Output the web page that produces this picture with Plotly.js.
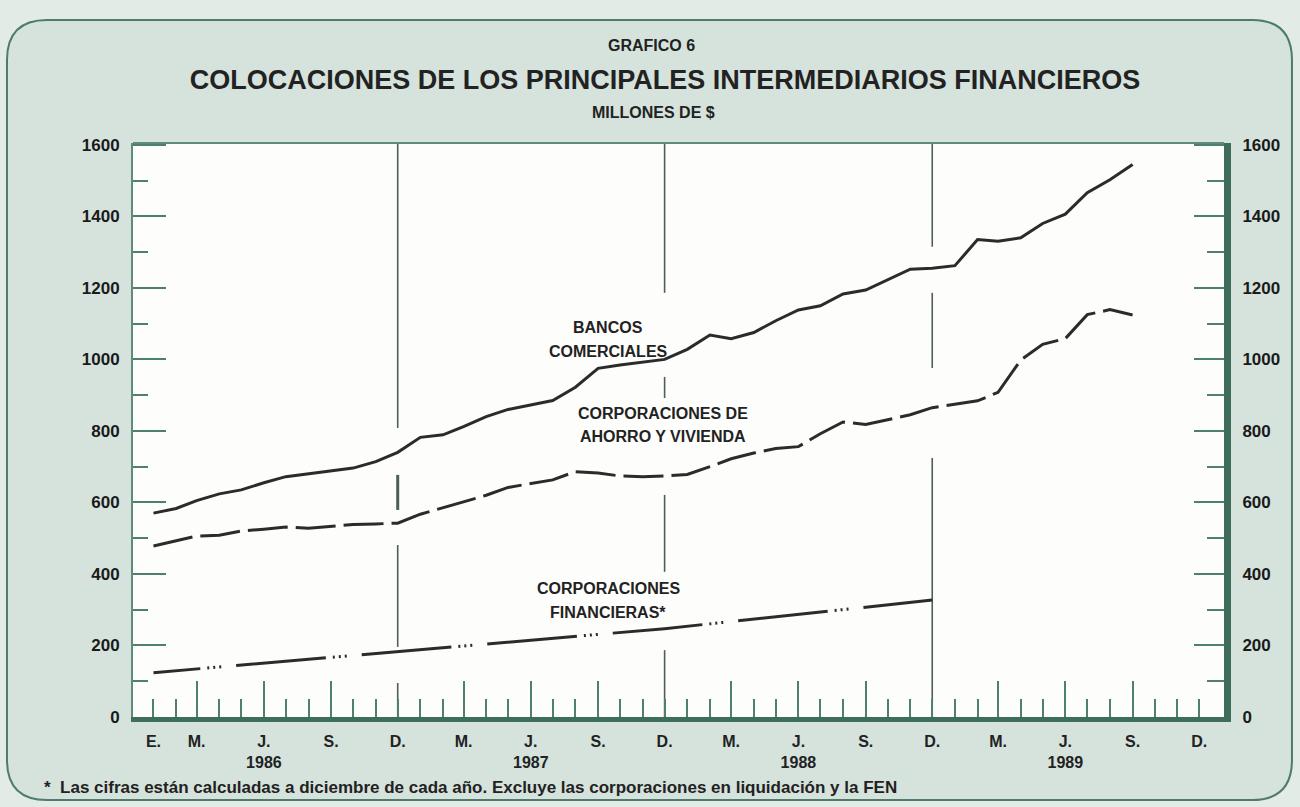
<!DOCTYPE html>
<html>
<head>
<meta charset="utf-8">
<script src="https://cdn.plot.ly/plotly-3.0.1.min.js"></script>
<style>html,body{margin:0;padding:0;background:#e3ebe6;}#chart{width:1300px;height:807px;}</style>
</head>
<body>
<div id="chart"></div>
<script>
// ---- Data (millones de $), monthly from Jan 1986 ----
const bancosComerciales = [
  570, 583, 605, 624, 635, 655, 672, 680, 688, 696, 714, 740,
  782, 789, 812, 840, 860, 872, 885, 922, 975, 984, 992, 1000,
  1028, 1068, 1058, 1075, 1108, 1138, 1150, 1183, 1194, 1222, 1252, 1255,
  1262, 1335, 1330, 1340, 1380, 1406, 1466, 1502, 1545
];
const ahorroVivienda = [
  478, 492, 506, 508, 520, 525, 531, 528, 533, 538, 540, 542,
  567, 585, 601, 620, 642, 653, 663, 686, 682, 674, 672, 674,
  678, 700, 722, 738, 751, 756, 792, 825, 818, 831, 845, 865,
  874, 884, 908, 998, 1042, 1058, 1125, 1139, 1124
];
const financierasFechas = ['1986-01-01', '1986-12-01', '1987-12-01', '1988-12-01'];
const financieras = [124, 183, 247, 327];

const etiquetasMes = ['E.','M.','J.<br>1986','S.','D.','M.','J.<br>1987','S.','D.','M.','J.<br>1988','S.','D.','M.','J.<br>1989','S.','D.'];
const etiquetasMesFechas = ['1986-01-01','1986-03-01','1986-06-01','1986-09-01','1986-12-01',
  '1987-03-01','1987-06-01','1987-09-01','1987-12-01',
  '1988-03-01','1988-06-01','1988-09-01','1988-12-01',
  '1989-03-01','1989-06-01','1989-09-01','1989-12-01'];

// month axis positions (Jan 1986 .. Dec 1989)
function mes(i) {
  const y = 1986 + Math.floor(i / 12);
  const m = (i % 12) + 1;
  return y + '-' + (m < 10 ? '0' + m : m) + '-01';
}
const meses = [];
for (let i = 0; i < 48; i++) meses.push(mes(i));
const trimestres = meses.filter((d, i) => [2, 5, 8].includes(i % 12));

const xRange = ['1985-12-04', '1990-01-04'];
const yRange = [0, 1605];
const axisCol = '#4f7f6d';
const lineCol = '#2b2b2b';
const FONT = 'Liberation Sans, Arial, sans-serif';

const traces = [
  { x: meses.slice(0, bancosComerciales.length), y: bancosComerciales, mode: 'lines', xaxis: 'x', yaxis: 'y',
    line: { color: lineCol, width: 3 }, hoverinfo: 'skip' },
  { x: meses.slice(0, ahorroVivienda.length), y: ahorroVivienda, mode: 'lines', xaxis: 'x2', yaxis: 'y',
    line: { color: lineCol, width: 3, dash: '40px,8px' }, hoverinfo: 'skip' },
  { x: financierasFechas, y: financieras, mode: 'lines', xaxis: 'x3', yaxis: 'y2',
    line: { color: lineCol, width: 3,
      dash: '47px,7px,2px,4px,2px,4px,2px,15px' + ',90px,7px,2px,4px,2px,4px,2px,15px'.repeat(8) },
    hoverinfo: 'skip' }
];

// frame (rounded) in paper coordinates
const L = -0.1155, R = 1.0623, T = 1.2143, B = -0.1446, rx = 0.0367, ry = 0.0697;
const framePath = `M ${L+rx},${T} L ${R-rx},${T} Q ${R},${T} ${R},${T-ry} L ${R},${B+ry} Q ${R},${B} ${R-rx},${B} ` +
  `L ${L+rx},${B} Q ${L},${B} ${L},${B+ry} L ${L},${T-ry} Q ${L},${T} ${L+rx},${T} Z`;

const shapes = [
  { type: 'path', xref: 'paper', yref: 'paper', path: framePath, fillcolor: '#d5e3dc',
    line: { color: '#4e7b6b', width: 2 }, layer: 'below' },
  { type: 'rect', xref: 'paper', yref: 'paper', x0: 0, x1: 1, y0: 0, y1: 1, fillcolor: '#fdfdfc',
    line: { width: 0 }, layer: 'below' },
  { type: 'line', xref: 'paper', yref: 'paper', x0: 0, x1: 1, y0: 1, y1: 1,
    line: { color: '#5f8b7b', width: 2 } }
];
// December separators (with gaps as in the print)
const sep = [
  ['1986-12-01', [[808, 1606], [196, 481], [0, 95]]],
  ['1987-12-01', [[1186, 1606], [892, 951], [406, 621], [0, 187]]],
  ['1988-12-01', [[1315, 1606], [976, 1186], [0, 724]]]
];
sep.forEach(([d, segs]) => segs.forEach(([a, b]) => shapes.push({
  type: 'line', xref: 'x', yref: 'y', x0: d, x1: d, y0: a, y1: b,
  line: { color: '#4d5f58', width: 1.6 }, layer: 'below' })));
shapes.push({ type: 'line', xref: 'x', yref: 'y', x0: '1986-12-01', x1: '1986-12-01', y0: 579, y1: 677,
  line: { color: '#4d5f58', width: 3 }, layer: 'below' });

function ann(text, x, y, size, opts) {
  return Object.assign({ text: text, xref: 'paper', yref: 'paper', x: x, y: y, showarrow: false,
    font: { family: FONT, size: size, color: '#222' }, xanchor: 'center', yanchor: 'middle' }, opts || {});
}
const annotations = [
  ann('<b>GRAFICO 6</b>', 0.4748, 1.1707, 16),
  ann('<b>MILLONES DE $</b>', 0.4775, 1.0523, 16),
  ann('<b>BANCOS</b>', 0.4354, 0.6794, 16),
  ann('<b>COMERCIALES</b>', 0.4354, 0.6359, 16),
  ann('<b>CORPORACIONES DE</b>', 0.4858, 0.5296, 16),
  ann('<b>AHORRO Y VIVIENDA</b>', 0.4858, 0.4895, 16),
  ann('<b>CORPORACIONES</b>', 0.4354, 0.2247, 16),
  ann('<b>FINANCIERAS*</b>', 0.4354, 0.1829, 16),
  ann('<b>*  Las cifras están calculadas a diciembre de cada año. Excluye las corporaciones en liquidación y la FEN</b>',
    -0.0834, -0.122, 17, { xanchor: 'left' })
];

const baseX = { type: 'date', range: xRange, showgrid: false, zeroline: false, fixedrange: true };
const tickFont = { family: FONT, size: 17, color: '#1a1a1a', weight: 'bold' };
const layout = {
  width: 1300, height: 807,
  margin: { l: 133, r: 76, t: 143, b: 90, pad: 0 },
  paper_bgcolor: '#e3ebe6', plot_bgcolor: '#fdfdfc',
  showlegend: false,
  font: { family: FONT, color: '#222' },
  title: { text: '<b>COLOCACIONES DE LOS PRINCIPALES INTERMEDIARIOS FINANCIEROS</b>',
    x: 0.5115, xanchor: 'center', y: 0.9009, yanchor: 'middle', yref: 'container',
    font: { family: FONT, size: 27, color: '#222' } },
  xaxis: Object.assign({}, baseX, { showline: true, linecolor: '#3e6d5b', linewidth: 5,
    ticks: 'inside', tickmode: 'array', tickvals: meses, ticklen: 18, tickwidth: 2, tickcolor: axisCol,
    showticklabels: false }),
  xaxis2: Object.assign({}, baseX, { overlaying: 'x', anchor: 'y', side: 'bottom', showline: false,
    ticks: 'inside', tickmode: 'array', tickvals: trimestres, ticklen: 36, tickwidth: 2, tickcolor: axisCol,
    showticklabels: false }),
  xaxis3: Object.assign({}, baseX, { overlaying: 'x', anchor: 'y', side: 'bottom', showline: false,
    ticks: '', tickmode: 'array', tickvals: etiquetasMesFechas, ticktext: etiquetasMes,
    ticklabelstandoff: 13, tickfont: { family: FONT, size: 16, color: '#222', weight: 'bold' } }),
  yaxis: { range: yRange, showgrid: false, zeroline: false, fixedrange: true,
    showline: true, linecolor: '#5f8b7b', linewidth: 2,
    ticks: 'inside', tickmode: 'linear', tick0: 0, dtick: 200, ticklen: 33, tickwidth: 2, tickcolor: axisCol,
    minor: { ticks: 'inside', dtick: 100, ticklen: 15, tickwidth: 2, tickcolor: axisCol },
    tickfont: tickFont, ticklabelstandoff: 8 },
  yaxis2: { range: yRange, overlaying: 'y', anchor: 'x', side: 'right', showgrid: false, zeroline: false, fixedrange: true,
    showline: true, linecolor: '#3e6d5b', linewidth: 7,
    ticks: 'inside', tickmode: 'linear', tick0: 0, dtick: 200, ticklen: 30, tickwidth: 2, tickcolor: axisCol,
    minor: { ticks: 'inside', dtick: 100, ticklen: 17, tickwidth: 2, tickcolor: axisCol },
    tickfont: tickFont, ticklabelstandoff: 8 },
  shapes: shapes,
  annotations: annotations
};

Plotly.newPlot('chart', traces, layout, { displayModeBar: false, staticPlot: true });
</script>
</body>
</html>
